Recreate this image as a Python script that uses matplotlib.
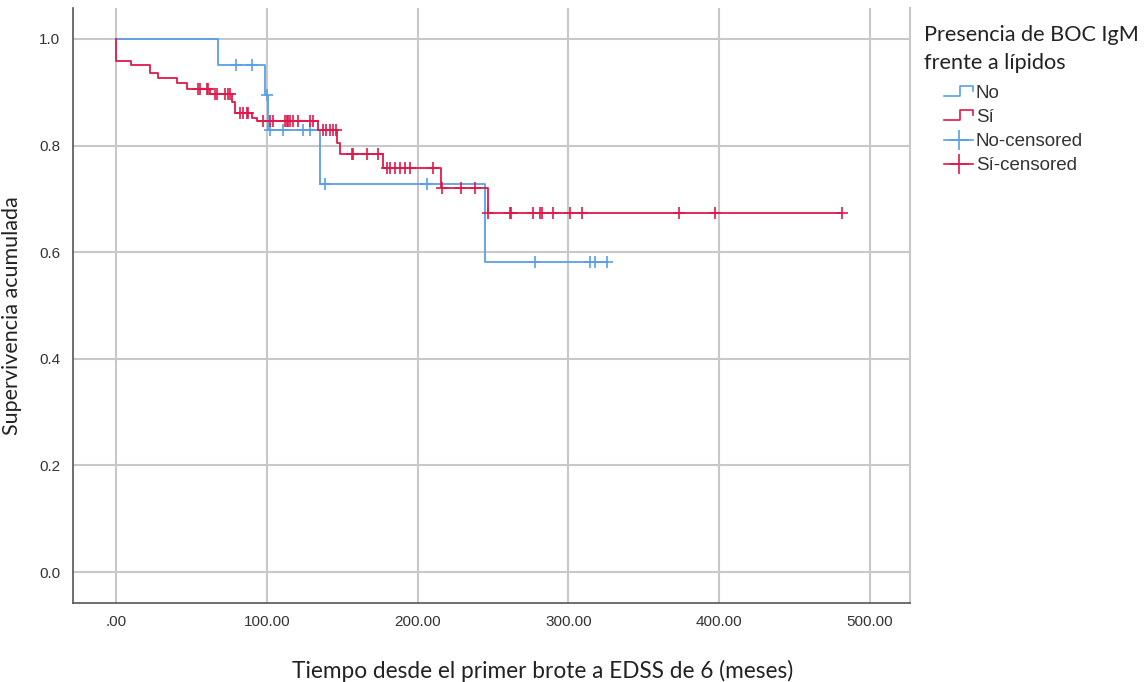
import numpy as np
import matplotlib
matplotlib.use('Agg')
import matplotlib.pyplot as plt
from matplotlib.lines import Line2D
from matplotlib.legend_handler import HandlerBase

# Kaplan-Meier: tiempos de evento y supervivencia tras cada evento
no_t = [67.6, 99, 101, 135.3, 244.7]
no_surv = [0.951, 0.895, 0.829, 0.728, 0.582]
no_cens = [79.6, 90.2, 100, 102, 110.7, 124, 128.6, 138.6, 206, 278, 314.3, 317.6, 325.6]

si_t = [0, 10, 22.5, 28, 40.5, 47, 62.3, 77, 79, 90.2, 93.5, 134, 146.5, 148.5, 177, 215.5, 246.7]
si_surv = [0.959, 0.951, 0.937, 0.926, 0.917, 0.906, 0.897, 0.882, 0.861, 0.852, 0.846,
           0.829, 0.805, 0.784, 0.758, 0.720, 0.674]
si_cens = [54.4, 55.7, 60.3, 61, 65.6, 67, 72.3, 74.3, 75.6, 82.2, 84.2, 86.9, 87.5, 97.5, 102,
           104, 112, 113.6, 114, 115.4, 117.4, 120.7, 128.6, 130.6, 137.3, 139.3, 142, 144, 146,
           156.5, 157, 166.4, 173.7, 179.7, 181.7, 185, 188.3, 191.6, 195, 210.2, 216, 228.8, 238,
           246.7, 261.3, 262, 276.5, 281.2, 282.5, 289.8, 301, 309, 373.3, 397.2, 481.4]

groups = ['No', 'Sí']
colors = ['#5a9fe6', '#e0194b']

xticks = [0, 100, 200, 300, 400, 500]
yticks = [0.0, 0.2, 0.4, 0.6, 0.8, 1.0]


def km_curve(t, s, cens):
    tt = np.concatenate([[0.0], t, [max(cens)]])
    ss = np.concatenate([[1.0], s, [s[-1]]])
    # valor de supervivencia en cada censura
    idx = np.searchsorted(t, cens, side='right') - 1
    sc = np.array([1.0 if i < 0 else s[i] for i in idx])
    return tt, ss, sc


class KMHandler(HandlerBase):
    def __init__(self, kind):
        super().__init__()
        self.kind = kind

    def create_artists(self, legend, orig_handle, xdescent, ydescent, width, height, fontsize, trans):
        c = orig_handle.get_color()
        x0 = -xdescent + width * 0.4
        x1 = -xdescent + width
        y0 = -ydescent
        if self.kind == 'step':
            xm = x0 + (x1 - x0) * 0.55
            arts = [Line2D([x0, xm, xm, x1, x1],
                           [y0 + 0.2 * height, y0 + 0.2 * height, y0 + 0.9 * height,
                            y0 + 0.9 * height, y0 + 0.55 * height], color=c, lw=1.2)]
        else:
            yc = y0 + 0.45 * height
            arts = [Line2D([x0, x1], [yc, yc], color=c, lw=1.2),
                    Line2D([(x0 + x1) / 2], [yc], color=c, marker='+', ms=14, mew=1.2, ls='')]
        for a in arts:
            a.set_transform(trans)
        return arts


fig = plt.figure(figsize=(11.44, 6.82), dpi=100)
ax = fig.add_axes([73 / 1144, 1 - 603 / 682, (910 - 73) / 1144, (603 - 8) / 682])

handles_step = []
handles_cens = []
for name, t, s, cens, col in [('No', no_t, no_surv, no_cens, colors[0]),
                              ('Sí', si_t, si_surv, si_cens, colors[1])]:
    tt, ss, sc = km_curve(np.array(t), np.array(s), np.array(cens))
    ln, = ax.step(tt, ss, where='post', color=col, lw=1.3, zorder=3)
    ax.plot(cens, sc, ls='', marker='+', ms=9, mew=1.2, color=col, zorder=4)
    handles_step.append(ln)
    handles_cens.append(Line2D([], [], color=col))

ax.set_xlim(-28.5, 526.5)
ax.set_ylim(-0.058, 1.058)
ax.set_xticks(xticks)
ax.set_xticklabels([('%.2f' % v).lstrip('0') if v == 0 else '%.2f' % v for v in xticks])
ax.set_yticks(yticks)
ax.set_yticklabels(['%.1f' % v for v in yticks])
ax.grid(True, color='#c8c8c8', lw=1.5)
ax.set_axisbelow(True)
ax.tick_params(length=0, labelsize=11, labelcolor='#333333', pad=9)
ax.spines['top'].set_visible(False)
ax.spines['right'].set_color('#c8c8c8')
ax.spines['right'].set_linewidth(1.5)
for sp in ['left', 'bottom']:
    ax.spines[sp].set_color('#555555')
    ax.spines[sp].set_linewidth(1.2)
for lbl in ax.get_xticklabels() + ax.get_yticklabels():
    lbl.set_fontfamily('Liberation Sans')

ax.set_xlabel('Tiempo desde el primer brote a EDSS de 6 (meses)', fontfamily='Lato',
              fontsize=16.3, color='#222222', labelpad=20)
ax.xaxis.set_label_coords((543 - 73) / 837, -0.095)
ax.set_ylabel('Supervivencia acumulada', fontfamily='Lato', fontsize=15.5,
              color='#222222')
ax.yaxis.set_label_coords(-0.061, 0.483)

hmap = {handles_step[0]: KMHandler('step'), handles_step[1]: KMHandler('step'),
        handles_cens[0]: KMHandler('cens'), handles_cens[1]: KMHandler('cens')}
leg = ax.legend(handles_step + handles_cens, ['No', 'Sí', 'No-censored', 'Sí-censored'],
                handler_map=hmap, loc='upper left', bbox_to_anchor=(915 / 1144, 1 - 16 / 682),
                bbox_transform=fig.transFigure, frameon=False, borderpad=0,
                title='Presencia de BOC IgM\nfrente a lípidos', alignment='left',
                prop={'family': 'Liberation Sans', 'size': 13.5},
                title_fontproperties={'family': 'Lato', 'size': 15.6},
                handlelength=2.6, handletextpad=0.15, labelspacing=0.37)
for txt in leg.get_texts():
    txt.set_color('#333333')
leg.get_title().set_color('#222222')
leg.get_title().set_linespacing(1.45)
leg._legend_box.sep = 9  # espacio extra entre el título y las entradas

fig.savefig('out.png', dpi=100)
